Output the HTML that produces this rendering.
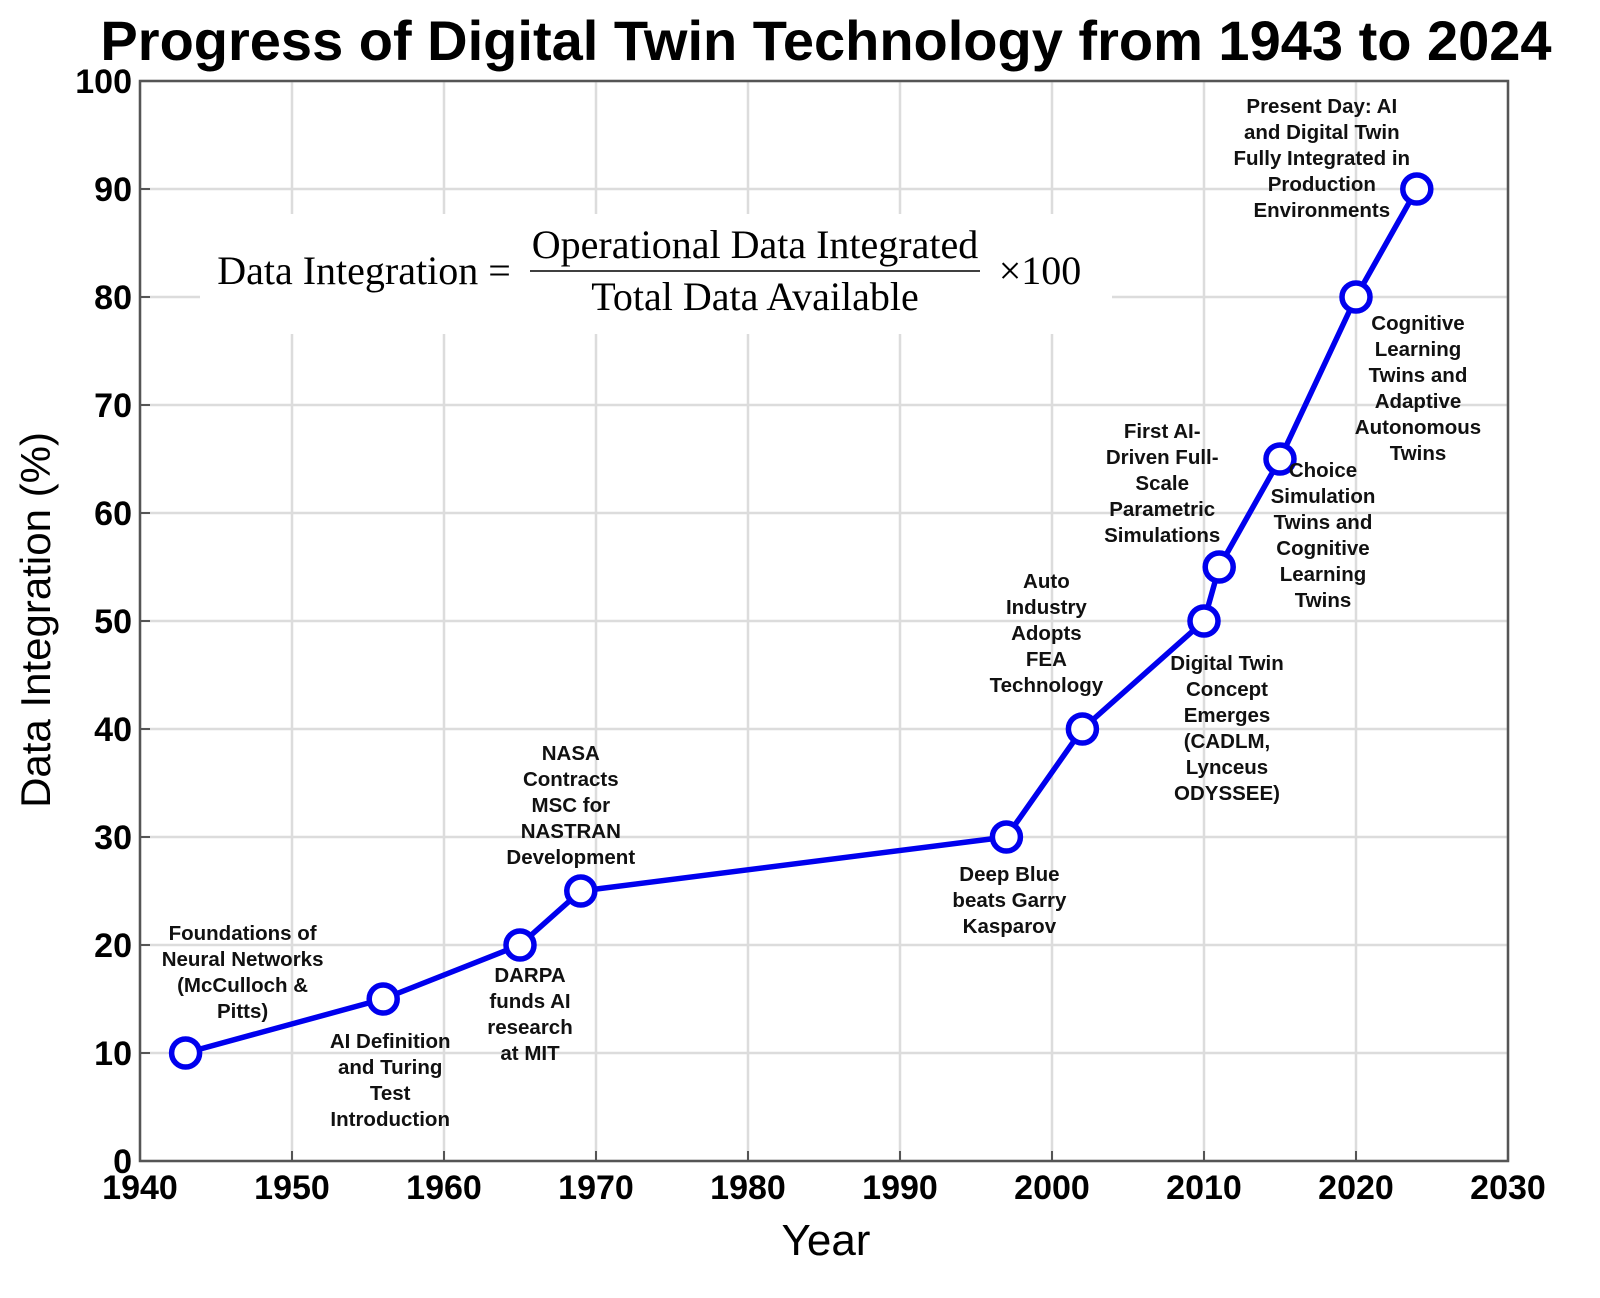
<!DOCTYPE html>
<html><head><meta charset="utf-8">
<style>
html,body{margin:0;padding:0;background:#fff;}
svg{display:block;}
text{font-family:"Liberation Sans",Arial,sans-serif;}
</style></head>
<body>
<svg id="chart" width="1600" height="1298" viewBox="0 0 1600 1298" xmlns="http://www.w3.org/2000/svg">
<rect width="1600" height="1298" fill="#fff"/>
<text x="826" y="60" text-anchor="middle" font-size="56" font-weight="bold" fill="#000">Progress of Digital Twin Technology from 1943 to 2024</text>
<g id="grid"></g>
<g id="formula">
<rect x="200" y="214" width="912" height="120" fill="#fff"/>
<text x="364" y="284" text-anchor="middle" font-size="40" style="font-family:'Liberation Serif',serif">Data Integration =</text>
<text x="755" y="258" text-anchor="middle" font-size="40" style="font-family:'Liberation Serif',serif">Operational Data Integrated</text>
<line x1="530" y1="271" x2="980" y2="271" stroke="#000" stroke-width="1.5"/>
<text x="755" y="310" text-anchor="middle" font-size="40" style="font-family:'Liberation Serif',serif">Total Data Available</text>
<text x="1040" y="284" text-anchor="middle" font-size="40" style="font-family:'Liberation Serif',serif">×100</text>
</g>
<g id="axes"></g>
<g id="series"></g>
<g id="notes"></g>
<text x="826" y="1255" text-anchor="middle" font-size="44" fill="#000">Year</text>
<text transform="translate(50,620) rotate(-90)" text-anchor="middle" font-size="42" fill="#000">Data Integration (%)</text>
</svg>
<script>
const years = [1943,1956,1965,1969,1997,2002,2010,2011,2015,2020,2024];
const integration = [10,15,20,25,30,40,50,55,65,80,90];
const xTicks = [1940,1950,1960,1970,1980,1990,2000,2010,2020,2030];
const yTicks = [0,10,20,30,40,50,60,70,80,90,100];
const noteLines = [
 ["Foundations of","Neural Networks","(McCulloch &","Pitts)"],
 ["AI Definition","and Turing","Test","Introduction"],
 ["DARPA","funds AI","research","at MIT"],
 ["NASA","Contracts","MSC for","NASTRAN","Development"],
 ["Deep Blue","beats Garry","Kasparov"],
 ["Auto","Industry","Adopts","FEA","Technology"],
 ["Digital Twin","Concept","Emerges","(CADLM,","Lynceus","ODYSSEE)"],
 ["First AI-","Driven Full-","Scale","Parametric","Simulations"],
 ["Choice","Simulation","Twins and","Cognitive","Learning","Twins"],
 ["Cognitive","Learning","Twins and","Adaptive","Autonomous","Twins"],
 ["Present Day: AI","and Digital Twin","Fully Integrated in","Production","Environments"]
];
const noteOff = [[57,-120],[7,42],[10,30],[-10,-138],[3,37],[-36,-148],[23,42],[-57,-136],[43,11],[62,26],[-95,-83]];
const X0=140,X1=1508,Y0=1161,Y1=81;
const sx = v => X0 + (v-1940)/(2030-1940)*(X1-X0);
const sy = v => Y0 - (v-0)/(100-0)*(Y0-Y1);
const NS="http://www.w3.org/2000/svg";
function mk(tag, attrs, parent){const e=document.createElementNS(NS,tag);for(const k in attrs)e.setAttribute(k,attrs[k]);parent.appendChild(e);return e;}
const grid=document.getElementById('grid'), axes=document.getElementById('axes'), series=document.getElementById('series'), notes=document.getElementById('notes');
xTicks.forEach(t=>{
 const l=mk('line',{x1:sx(t),x2:sx(t),y1:Y1,y2:Y0,stroke:'#dcdcdc','stroke-width':2.5},grid);
 
 
 const tk=mk('line',{x1:sx(t),x2:sx(t),y1:Y0,y2:Y0-10,stroke:'#555','stroke-width':2},axes);
 
 
 const tx=mk('text',{x:sx(t),y:Y0+38,'text-anchor':'middle','font-size':34,'font-weight':'bold'},axes);
 tx.textContent=t;
 
 
});
yTicks.forEach(t=>{
 const l=mk('line',{x1:X0,x2:X1,y1:sy(t),y2:sy(t),stroke:'#dcdcdc','stroke-width':2.5},grid);
 
 
 const tk=mk('line',{x1:X0,x2:X0+10,y1:sy(t),y2:sy(t),stroke:'#555','stroke-width':2},axes);
 
 
 const tx=mk('text',{x:X0-8,y:sy(t)+12,'text-anchor':'end','font-size':34,'font-weight':'bold'},axes);
 tx.textContent=t;
 
 
});
const frame=mk('rect',{x:X0,y:Y1,width:X1-X0,height:Y0-Y1,fill:'none',stroke:'#555','stroke-width':2.5},axes);


const pts=years.map((y,i)=>sx(y)+','+sy(integration[i])).join(' ');
const line=mk('polyline',{points:pts,fill:'none',stroke:'#0000ee','stroke-width':5.5,'stroke-linejoin':'round'},series);


years.forEach((y,i)=>{
 const c=mk('circle',{cx:sx(y),cy:sy(integration[i]),r:14,fill:'#fff',stroke:'#0000ee','stroke-width':5.5},series);
 
 
 const g=mk('text',{'text-anchor':'middle','font-size':20.5,'font-weight':'bold',fill:'#111'},notes);
 
 
 const cx=sx(y)+noteOff[i][0], cy=sy(integration[i])+noteOff[i][1];
 noteLines[i].forEach((s,j)=>{
  const ts=mk('tspan',{x:cx,y:cy+7+j*26},g);
  ts.textContent=s;
 });
});
</script>
</body></html>
